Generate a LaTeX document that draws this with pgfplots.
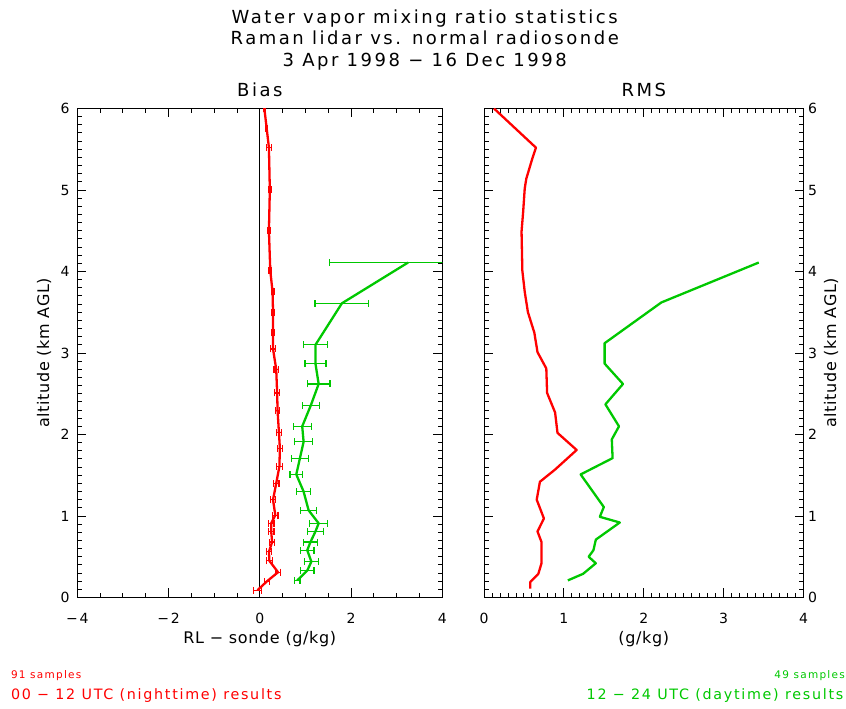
\documentclass[border=0pt]{standalone}
\usepackage{pgfplots}
\pgfplotsset{compat=1.18}
\usepackage{pgfplotstable}
\usepackage{fontspec}
\setmainfont[LetterSpace=12]{DejaVu Sans}
\newfontfamily\labfont[LetterSpace=4]{DejaVu Sans}
\newfontfamily\titfont[LetterSpace=14]{DejaVu Sans}
\definecolor{myred}{RGB}{255,0,0}
\definecolor{mygreen}{RGB}{0,200,0}

\pgfplotstableread{
y x ex
0.09 -0.05 0.08
0.20 0.16 0.05
0.31 0.40 0.05
0.45 0.21 0.06
0.56 0.20 0.06
0.68 0.27 0.06
0.81 0.25 0.06
0.91 0.25 0.06
1.01 0.34 0.06
1.20 0.29 0.06
1.40 0.36 0.06
1.61 0.43 0.06
1.83 0.44 0.06
2.02 0.42 0.06
2.29 0.39 0.05
2.51 0.38 0.05
2.80 0.36 0.05
3.05 0.29 0.05
3.25 0.29 0.03
3.50 0.29 0.03
3.75 0.28 0.03
4.01 0.23 0.03
4.50 0.20 0.03
5.00 0.22 0.03
5.52 0.20 0.05
5.76 0.15 0.02
6.00 0.10 0.02
}\redbias

\pgfplotstableread{
y x ex
0.21 0.82 0.06
0.33 1.04 0.15
0.44 1.13 0.15
0.58 1.04 0.15
0.68 1.11 0.15
0.81 1.22 0.17
0.91 1.29 0.20
1.07 1.07 0.17
1.30 0.96 0.15
1.51 0.80 0.14
1.71 0.88 0.19
1.91 0.96 0.20
2.10 0.93 0.20
2.36 1.12 0.18
2.62 1.29 0.25
2.87 1.22 0.23
3.10 1.22 0.27
3.61 1.80 0.59
4.11 3.25 1.72
}\greenbias

\pgfplotstableread{
y x
0.11 0.58
0.19 0.58
0.29 0.68
0.42 0.72
0.55 0.72
0.68 0.72
0.81 0.67
0.97 0.75
1.20 0.66
1.42 0.70
1.57 0.89
1.81 1.16
2.02 0.92
2.27 0.89
2.51 0.79
2.81 0.78
3.01 0.67
3.25 0.63
3.50 0.55
3.75 0.51
4.01 0.48
4.49 0.47
4.73 0.49
5.02 0.51
5.14 0.53
5.37 0.60
5.52 0.65
6.00 0.125
}\redrms

\pgfplotstableread{
y x
0.21 1.05
0.29 1.24
0.42 1.40
0.50 1.31
0.58 1.37
0.71 1.40
0.92 1.70
0.99 1.45
1.11 1.50
1.51 1.21
1.71 1.61
1.94 1.60
2.10 1.69
2.37 1.52
2.62 1.74
2.87 1.51
3.12 1.51
3.62 2.22
4.11 3.44
}\greenrms

\newcommand{\fs}{\fontsize{14}{14}\selectfont}
\newcommand{\fl}{\labfont\fontsize{16}{16}\selectfont}
\newcommand{\ft}{\titfont\fontsize{18}{18}\selectfont}

\pgfplotsset{
  myaxis/.style={
    scale only axis, height=489pt,
    ymin=0, ymax=6, ytick={0,...,6}, minor y tick num=9,
    tick align=inside, major tick length=9pt, minor tick length=4.5pt,
    axis line style={line width=1pt, black},
    every tick/.style={black, line width=0.9pt},
    /pgf/number format/assume math mode=true,
    ticklabel style={font=\fs, inner sep=0pt},
    xticklabel style={anchor=base, yshift=-25.6pt},
    every axis x label/.style={at={(axis description cs:0.5,0)}, anchor=center, yshift=-42pt, font=\fl},
    every axis title/.style={at={(axis description cs:0.5,1)}, anchor=center, yshift=18.3pt, font=\ft},
    xtick pos=both, ytick pos=both,
  },
  redline/.style={myred, line width=2.3pt, line join=round},
  greenline/.style={mygreen, line width=2.3pt, line join=round},
}

\begin{document}
\begin{tikzpicture}
\useasboundingbox (0,0) rectangle (846pt,709pt);

\begin{scope}[every node/.style={anchor=base, inner sep=0pt, font=\ft}]
\node at (424.7pt,685.8pt) {Water vapor mixing ratio statistics};
\node at (424.7pt,664.2pt) {Raman lidar vs. normal radiosonde};
\node at (424.7pt,642.5pt) {3 Apr 1998 − 16 Dec 1998};
\end{scope}

\begin{axis}[myaxis,
  at={(77.3pt,111.5pt)}, anchor=south west, width=365pt,
  xmin=-4, xmax=4, xtick={-4,-2,0,2,4}, xticklabels={−4,−2,0,2,4}, minor x tick num=3,
  yticklabel style={anchor=east, xshift=-7.5pt},
  every axis y label/.style={at={(axis description cs:0,0.5)}, xshift=-33.3pt, rotate=90, anchor=center, font=\fl},
  title={Bias}, xlabel={RL − sonde (g/kg)}, ylabel={altitude (km AGL)},
  error bars/error bar style={line width=1.2pt},
  error bars/error mark options={rotate=90, line width=1.2pt, mark size=3.5pt},
]
\addplot[black, line width=1pt] coordinates {(0,0) (0,6)};
\addplot[redline, error bars/.cd, x dir=both, x explicit] table[x=x, y=y, x error=ex] {\redbias};
\addplot[greenline, error bars/.cd, x dir=both, x explicit] table[x=x, y=y, x error=ex] {\greenbias};
\end{axis}

\begin{axis}[myaxis,
  at={(484pt,111.5pt)}, anchor=south west, width=319.5pt,
  xmin=0, xmax=4, xtick={0,1,2,3,4}, minor x tick num=9,
  yticklabel pos=right,
  yticklabel style={anchor=west, xshift=4.5pt},
  every axis y label/.style={at={(axis description cs:1,0.5)}, xshift=27.5pt, rotate=90, anchor=center, font=\fl},
  title={RMS}, xlabel={(g/kg)}, ylabel={altitude (km AGL)},
]
\addplot[redline] table[x=x, y=y] {\redrms};
\addplot[greenline] table[x=x, y=y] {\greenrms};
\end{axis}

\node[anchor=base west, inner sep=0pt, text=myred, font=\fontsize{10.5}{10.5}\selectfont] at (10.8pt,30.2pt) {91 samples};
\node[anchor=base west, inner sep=0pt, text=myred, font=\fontsize{14.3}{14.3}\selectfont] at (10.8pt,9pt) {00 − 12 UTC (nighttime) results};
\node[anchor=base east, inner sep=0pt, text=mygreen, font=\fontsize{10.5}{10.5}\selectfont] at (845pt,30.2pt) {49 samples};
\node[anchor=base east, inner sep=0pt, text=mygreen, font=\fontsize{14.3}{14.3}\selectfont] at (843.5pt,9pt) {12 − 24 UTC (daytime) results};
\end{tikzpicture}
\end{document}
